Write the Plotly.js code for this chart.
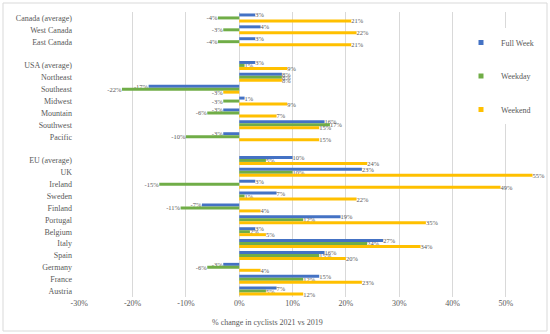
<!DOCTYPE html>
<html>
<head>
<meta charset="utf-8">
<script src="https://cdn.plot.ly/plotly-3.0.1.min.js"></script>
<style>
  html, body { margin: 0; padding: 0; background: #ffffff; }
  #chart { width: 550px; height: 334px; }
</style>
</head>
<body>
<div id="chart"></div>
<script>
// Categories, top to bottom (blank strings are the spacer rows)
const categories = [
  "Canada (average)", "West Canada", "East Canada", " ",
  "USA (average)", "Northeast", "Southeast", "Midwest", "Mountain", "Southwest", "Pacific", "  ",
  "EU (average)", "UK", "Ireland", "Sweden", "Finland", "Portugal", "Belgium", "Italy", "Spain", "Germany", "France", "Austria"
];
const seriesNames = ["Full Week", "Weekday", "Weekend"];
const fullWeek = [3, 4, 3, null, 3, 8, -17, 1, -3, 16, -3, null, 10, 23, 3, 7, -7, 19, 3, 27, 16, -3, 15, 7];
const weekday  = [-4, -3, -4, null, 1, 8, -22, -3, -6, 17, -10, null, 5, 10, -15, 1, -11, 12, 2, 24, 15, -6, 12, 5];
const weekend  = [21, 22, 21, null, 9, 8, -3, 9, 7, 15, 15, null, 24, 55, 49, 22, 4, 35, 5, 34, 20, 4, 23, 12];
const xTicks = [-30, -20, -10, 0, 10, 20, 30, 40, 50];
const xTitle = "% change in cyclists 2021 vs 2019";

const colors = ["#4472C4", "#70AD47", "#FFC000"];
const values = [fullWeek, weekday, weekend];
const serif = "Liberation Serif, Times New Roman, serif";
const grey = "#595959";

const traces = [];
values.forEach((v, i) => {
  traces.push({
    type: "bar",
    orientation: "h",
    name: seriesNames[i],
    x: v,
    y: categories,
    marker: { color: colors[i] },
    text: v.map(d => (d === null ? "" : String(d) + "%")),
    texttemplate: "%{text}",
    textposition: "outside",
    constraintext: "none",
    cliponaxis: false,
    textfont: { family: serif, size: 6.5, color: grey },
    showlegend: false,
    hoverinfo: "skip"
  });
});
// legend entries (small square keys)
values.forEach((v, i) => {
  traces.push({
    type: "scatter",
    mode: "markers",
    name: seriesNames[i],
    x: [null],
    y: [null],
    marker: { symbol: "square", size: 5, color: colors[i] },
    legendgroup: "g" + i,
    showlegend: true,
    hoverinfo: "skip"
  });
});

const L = 79, R = 10, T = 12, B = 37;
const W = 550 - L - R, H = 334 - T - B;
const px = p => (p - L) / W;
const py = p => (334 - B - p) / H;

const layout = {
  width: 550, height: 334,
  margin: { l: L, r: R, t: T, b: B, pad: 0 },
  paper_bgcolor: "#ffffff",
  plot_bgcolor: "#ffffff",
  barmode: "group",
  bargap: 0.25,
  bargroupgap: 0,
  font: { family: serif, size: 8, color: grey },
  xaxis: {
    range: [-30.05, 56.4],
    tickvals: xTicks,
    ticktext: xTicks.map(t => t + "%"),
    showgrid: true,
    gridcolor: "#d9d9d9",
    gridwidth: 1,
    zeroline: true,
    zerolinecolor: "#d9d9d9",
    zerolinewidth: 1,
    showline: false,
    ticks: "",
    tickfont: { family: serif, size: 8, color: grey },
    fixedrange: true
  },
  yaxis: {
    type: "category",
    categoryorder: "array",
    categoryarray: categories,
    autorange: "reversed",
    showgrid: false,
    zeroline: false,
    showline: false,
    ticks: "",
    ticklabelstandoff: 6,
    tickfont: { family: serif, size: 8, color: grey },
    fixedrange: true
  },
  legend: {
    x: px(461), xanchor: "left",
    y: py(28), yanchor: "top",
    bgcolor: "#ffffff",
    borderwidth: 0,
    font: { family: serif, size: 8, color: grey },
    traceorder: "grouped",
    tracegroupgap: 14.5,
    itemwidth: 30
  },
  annotations: [{
    text: xTitle,
    xref: "paper", yref: "paper",
    x: px(267), y: py(322),
    xanchor: "center", yanchor: "middle",
    showarrow: false,
    font: { family: serif, size: 8, color: grey }
  }],
  shapes: [{
    type: "rect",
    xref: "paper", yref: "paper",
    x0: px(3), x1: px(547), y0: py(331), y1: py(3),
    line: { color: "#d9d9d9", width: 1 },
    fillcolor: "rgba(0,0,0,0)",
    layer: "below"
  }]
};

Plotly.newPlot("chart", traces, layout, { displayModeBar: false, staticPlot: true });
</script>
</body>
</html>
